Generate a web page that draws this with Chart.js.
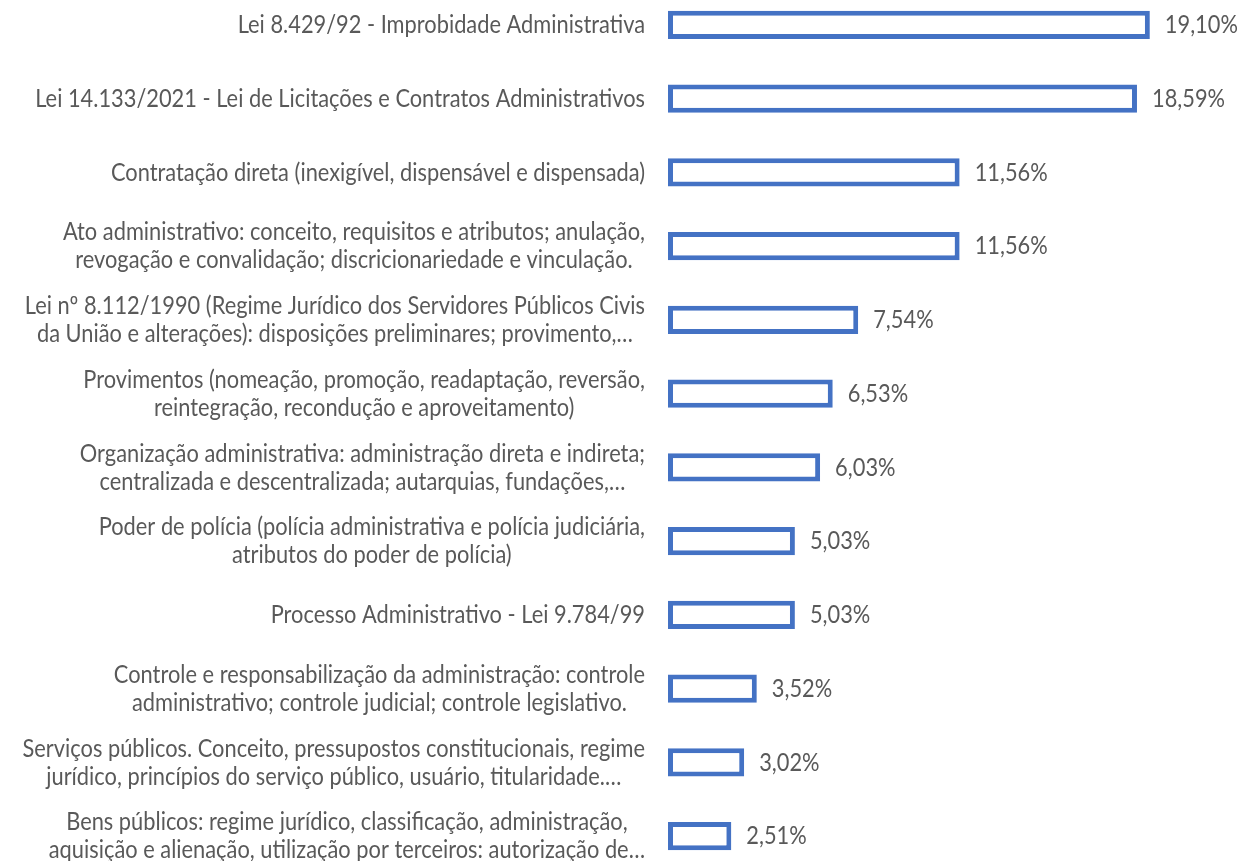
<!DOCTYPE html>
<html>
<head>
<meta charset="utf-8">
<script src="https://cdn.jsdelivr.net/npm/chart.js@4/dist/chart.umd.min.js"></script>
<style>
  html, body { margin: 0; padding: 0; background: #fff; overflow: hidden; }
  #wrap { position: absolute; left: 0; top: -12px; width: 1239px; height: 885px; }
</style>
</head>
<body>
<div id="wrap"><canvas id="chart" width="1239" height="885"></canvas></div>
<script>
// categories (each entry is the lines of the wrapped label)
const categories = [
  ["Lei 8.429/92 - Improbidade Administrativa"],
  ["Lei 14.133/2021 - Lei de Licitações e Contratos Administrativos"],
  ["Contratação direta (inexigível, dispensável e dispensada)"],
  ["Ato administrativo: conceito, requisitos e atributos; anulação,", "revogação e convalidação; discricionariedade e vinculação."],
  ["Lei nº 8.112/1990 (Regime Jurídico dos Servidores Públicos Civis", "da União e alterações): disposições preliminares; provimento,…"],
  ["Provimentos (nomeação, promoção, readaptação, reversão,", "reintegração, recondução e aproveitamento)"],
  ["Organização administrativa: administração direta e indireta;", "centralizada e descentralizada; autarquias, fundações,…"],
  ["Poder de polícia (polícia administrativa e polícia judiciária,", "atributos do poder de polícia)"],
  ["Processo Administrativo - Lei 9.784/99"],
  ["Controle e responsabilização da administração: controle", "administrativo; controle judicial; controle legislativo."],
  ["Serviços públicos. Conceito, pressupostos constitucionais, regime", "jurídico, princípios do serviço público, usuário, titularidade.…"],
  ["Bens públicos: regime jurídico, classificação, administração,", "aquisição e alienação, utilização por terceiros: autorização de…"]
];

const values = [19.10, 18.59, 11.56, 11.56, 7.54, 6.53, 6.03, 5.03, 5.03, 3.52, 3.02, 2.51];

const valueLabels = ["19,10%", "18,59%", "11,56%", "11,56%", "7,54%", "6,53%", "6,03%", "5,03%", "5,03%", "3,52%", "3,02%", "2,51%"];

const barColor = "#4472C4";
const textColor = "#595959";
const fontFamily = "Lato, 'Open Sans', sans-serif";
const textStretch = 1.16; // reference font (Calibri) is taller for its width

// pick a font size so the longest one-line label matches the reference width
function fitFontSize() {
  const c = document.createElement("canvas").getContext("2d");
  c.font = "20px " + fontFamily;
  const w = c.measureText(categories[1][0]).width;
  return 20 * 610 / w;
}
const fontSize = fitFontSize();

function drawText(ctx, txt, x, y) {
  ctx.save();
  ctx.translate(x, y);
  ctx.scale(1, textStretch);
  ctx.fillText(txt, 0, 0);
  ctx.restore();
}

const labelsPlugin = {
  id: "labelsPlugin",
  afterDatasetsDraw(chart) {
    const ctx = chart.ctx;
    const yScale = chart.scales.y;
    const meta = chart.getDatasetMeta(0);
    const right = chart.chartArea.left - 23;
    const lineH = 28;

    ctx.save();
    ctx.font = fontSize + "px " + fontFamily;
    ctx.fillStyle = textColor;
    ctx.textBaseline = "middle";

    categories.forEach((lines, i) => {
      const yc = yScale.getPixelForValue(i);
      let maxW = 0;
      lines.forEach(l => { maxW = Math.max(maxW, ctx.measureText(l).width); });
      const cx = right - maxW / 2;
      ctx.textAlign = "center";
      lines.forEach((l, j) => {
        const y = yc + (j - (lines.length - 1) / 2) * lineH;
        drawText(ctx, l, cx, y);
      });

      const bar = meta.data[i];
      ctx.textAlign = "left";
      drawText(ctx, valueLabels[i], bar.x + 15, bar.y);
    });
    ctx.restore();
  }
};

const chart = new Chart(document.getElementById("chart"), {
  type: "bar",
  data: {
    labels: categories.map(c => c.join(" ")),
    datasets: [{
      data: values,
      backgroundColor: "#ffffff",
      borderColor: barColor,
      borderWidth: 5,
      borderSkipped: false,
      barPercentage: 0.38,
      categoryPercentage: 1
    }]
  },
  options: {
    indexAxis: "y",
    responsive: false,
    animation: false,
    devicePixelRatio: 1,
    layout: { padding: { left: 668, right: 16, top: 0, bottom: 0 } },
    plugins: {
      legend: { display: false },
      tooltip: { enabled: false }
    },
    scales: {
      x: { display: false, min: 0, max: 22 },
      y: { display: false }
    }
  },
  plugins: [labelsPlugin]
});
</script>
</body>
</html>
